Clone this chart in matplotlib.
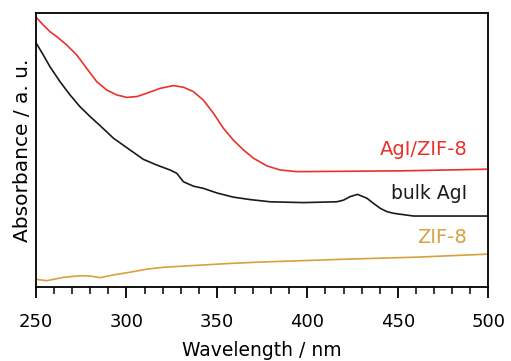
import numpy as np
import matplotlib.pyplot as plt

# ---- data (arbitrary absorbance units) ----
wl_red = [250, 254.0, 257.7, 261.4, 267.0, 272.5, 278.0, 283.6, 289.1, 294.6,
          300.2, 305.7, 311.2, 318.6, 325.9, 331.5, 337.0, 342.5, 348.1, 353.6,
          359.1, 364.7, 370.2, 377.6, 385.0, 394.2, 453.0, 500]
abs_red = [0.985, 0.956, 0.932, 0.914, 0.883, 0.847, 0.798, 0.749, 0.719, 0.701,
           0.692, 0.695, 0.707, 0.725, 0.735, 0.729, 0.713, 0.682, 0.634, 0.579,
           0.536, 0.500, 0.470, 0.442, 0.427, 0.421, 0.424, 0.430]

wl_bulk = [250, 254.0, 257.7, 263.3, 268.8, 274.3, 279.9, 285.4, 292.8, 302.0,
           309.3, 316.8, 324.1, 327.8, 331.5, 337.0, 342.5, 350.1, 359.0, 368.4,
           379.4, 397.8, 416.3, 420.0, 423.7, 427.7, 432.9, 436.6, 440.3, 444.0,
           447.6, 458.7, 500]
abs_bulk = [0.891, 0.847, 0.804, 0.749, 0.701, 0.658, 0.622, 0.589, 0.543, 0.500,
            0.466, 0.445, 0.427, 0.415, 0.384, 0.368, 0.360, 0.343, 0.328, 0.319,
            0.311, 0.308, 0.311, 0.317, 0.330, 0.338, 0.324, 0.305, 0.287, 0.275,
            0.269, 0.259, 0.259]

wl_zif = [250, 255.9, 265.1, 274.3, 279.9, 285.4, 292.8, 302.0, 311.2, 320.4,
          338.9, 357.3, 373.9, 423.7, 460.7, 500]
abs_zif = [0.028, 0.023, 0.035, 0.041, 0.040, 0.034, 0.044, 0.054, 0.065, 0.072,
           0.079, 0.086, 0.091, 0.102, 0.109, 0.120]

red = '#e8322c'
orange = '#d9a040'
black = '#1a1a1a'

fig = plt.figure(figsize=(5.11, 3.61), dpi=100)
ax = fig.add_axes([0.0705, 0.205, 0.885, 0.759])

ax.plot(wl_red, abs_red, color=red, lw=1.2)
ax.plot(wl_bulk, abs_bulk, color=black, lw=1.2)
ax.plot(wl_zif, abs_zif, color=orange, lw=1.2)

# series labels, right aligned near the right edge
ax.text(488.4, 0.50, 'AgI/ZIF-8', color=red, fontsize=14, ha='right', va='center')
ax.text(488.4, 0.343, 'bulk AgI', color=black, fontsize=13.5, ha='right', va='center')
ax.text(488.4, 0.182, 'ZIF-8', color=orange, fontsize=14, ha='right', va='center')

ax.set_xlim(250, 500)
ax.set_ylim(0, 1)
ax.set_xticks(np.arange(250, 501, 50))
ax.set_xticks(np.arange(250, 501, 10), minor=True)
ax.tick_params(axis='x', which='major', direction='out', length=8, width=1.3,
               labelsize=13, pad=11)
ax.tick_params(axis='x', which='minor', direction='out', length=5, width=1.1)
ax.set_yticks([])
for s in ax.spines.values():
    s.set_linewidth(1.3)

ax.set_xlabel('Wavelength / nm', fontsize=13.5, labelpad=7)
ax.set_ylabel('Absorbance / a. u.', fontsize=14.5, labelpad=3)

fig.savefig('out.png', dpi=100)
